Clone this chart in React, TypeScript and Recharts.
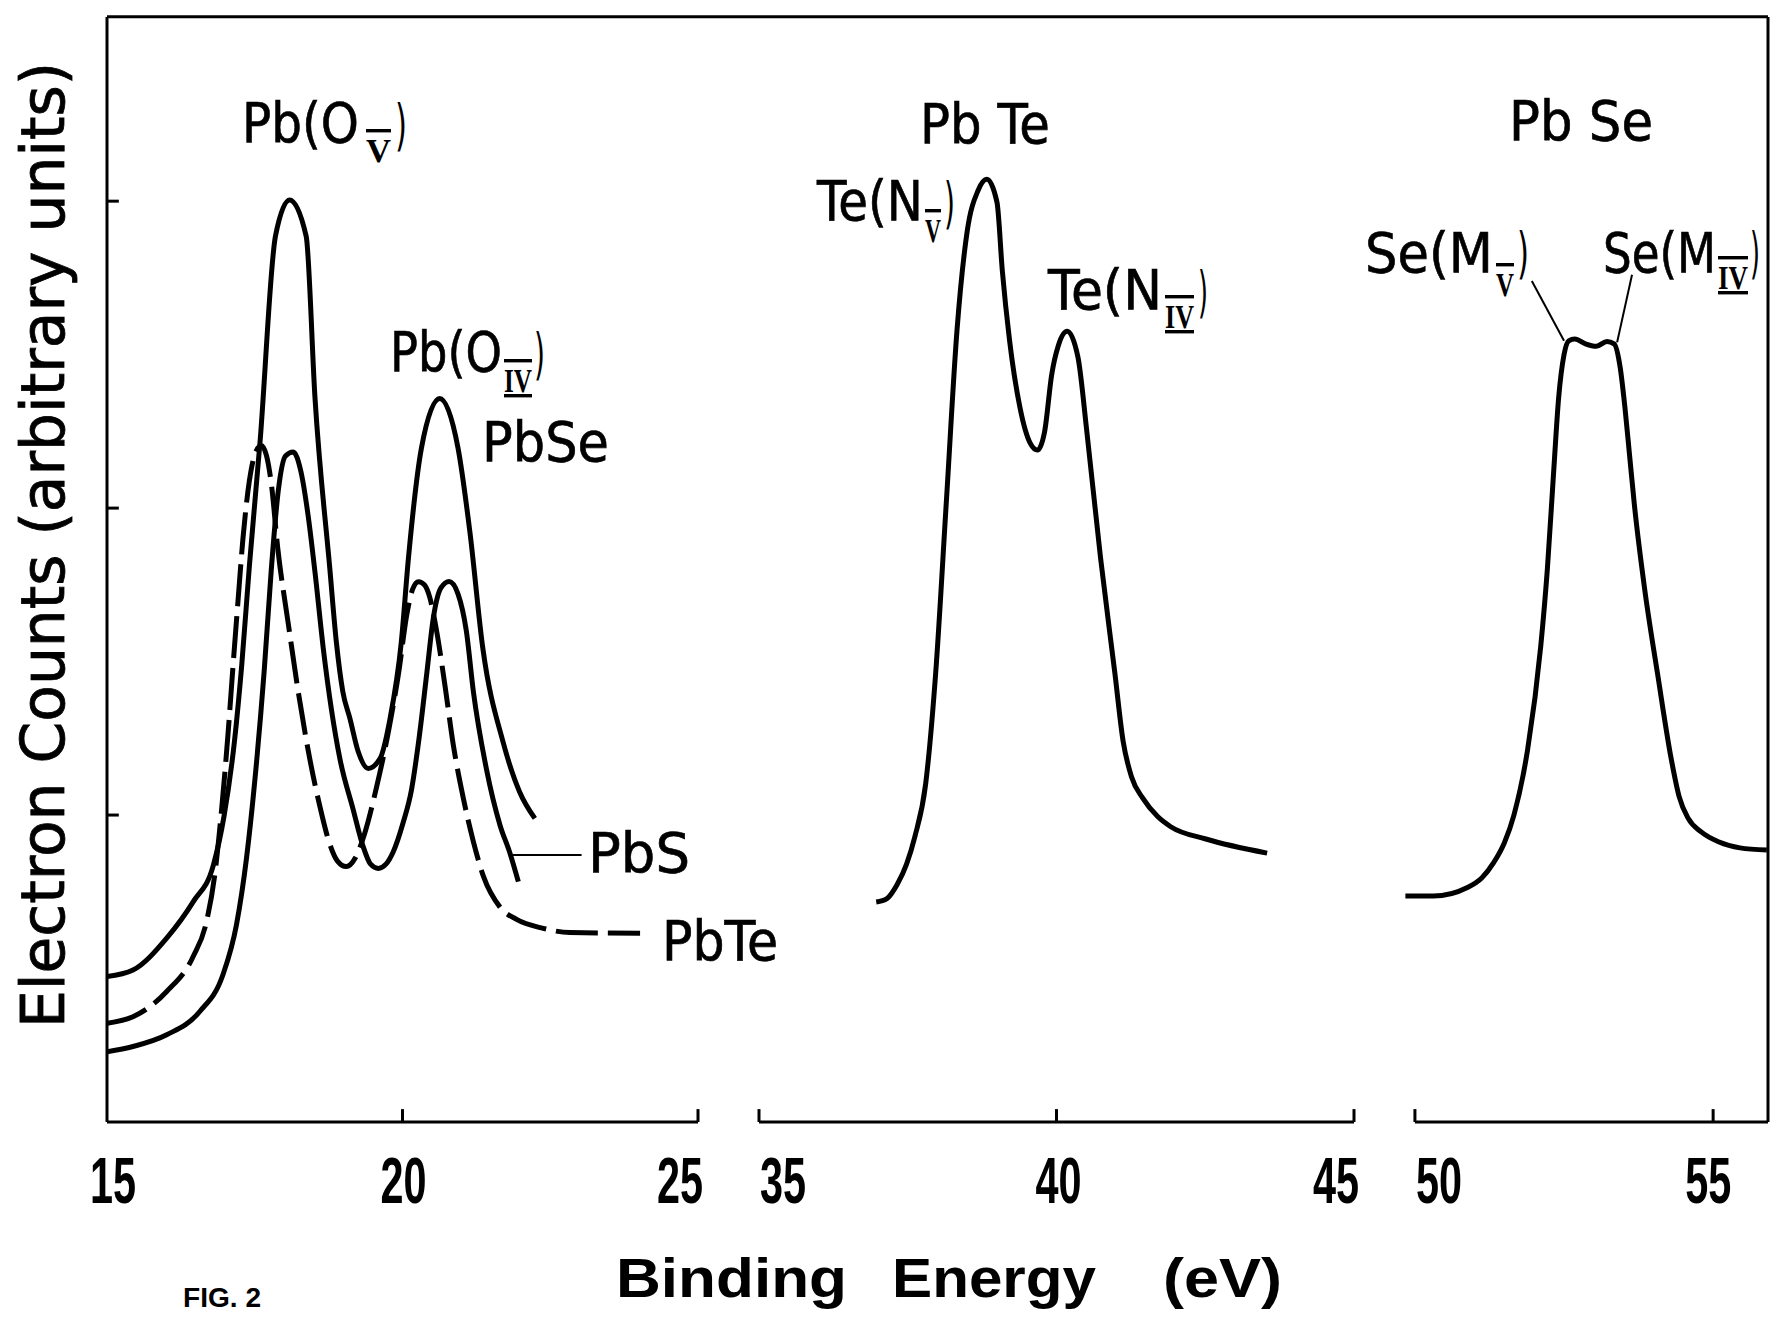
import React from 'react'
import { LineChart, Line, XAxis, YAxis, ReferenceLine } from 'recharts'

// binding energy (eV) vs electron counts (arbitrary units)
const pbSe = [
  { e: 15.0, c: 0.474 }, { e: 15.44, c: 0.495 }, { e: 16.01, c: 0.599 }, { e: 16.46, c: 0.718 },
  { e: 16.8, c: 0.837 }, { e: 16.98, c: 0.996 }, { e: 17.16, c: 1.246 }, { e: 17.28, c: 1.489 },
  { e: 17.41, c: 1.814 }, { e: 17.59, c: 2.217 }, { e: 17.85, c: 2.886 }, { e: 18.09, c: 3.004 },
  { e: 18.37, c: 2.886 }, { e: 18.52, c: 2.357 }, { e: 18.77, c: 1.803 }, { e: 18.88, c: 1.565 },
  { e: 18.99, c: 1.402 }, { e: 19.11, c: 1.315 }, { e: 19.25, c: 1.207 }, { e: 19.42, c: 1.152 },
  { e: 19.62, c: 1.184 }, { e: 19.79, c: 1.315 }, { e: 19.98, c: 1.564 }, { e: 20.1, c: 1.836 },
  { e: 20.32, c: 2.195 }, { e: 20.63, c: 2.357 }, { e: 20.94, c: 2.195 }, { e: 21.14, c: 1.923 },
  { e: 21.36, c: 1.542 }, { e: 21.7, c: 1.239 }, { e: 21.98, c: 1.076 }, { e: 22.24, c: 0.989 },
]

const pbS = [
  { e: 15.0, c: 0.229 }, { e: 15.44, c: 0.246 }, { e: 16.01, c: 0.284 }, { e: 16.57, c: 0.36 },
  { e: 16.96, c: 0.479 }, { e: 17.19, c: 0.642 }, { e: 17.36, c: 0.859 }, { e: 17.5, c: 1.11 },
  { e: 17.66, c: 1.47 }, { e: 17.78, c: 1.8 }, { e: 17.9, c: 2.06 }, { e: 18.02, c: 2.17 },
  { e: 18.15, c: 2.183 }, { e: 18.28, c: 2.12 }, { e: 18.4, c: 1.98 }, { e: 18.52, c: 1.79 },
  { e: 18.66, c: 1.542 }, { e: 18.94, c: 1.184 }, { e: 19.16, c: 1.022 }, { e: 19.33, c: 0.9 },
  { e: 19.46, c: 0.84 }, { e: 19.59, c: 0.826 }, { e: 19.72, c: 0.84 }, { e: 19.84, c: 0.879 },
  { e: 20.01, c: 0.975 }, { e: 20.15, c: 1.08 }, { e: 20.28, c: 1.25 }, { e: 20.41, c: 1.46 },
  { e: 20.52, c: 1.64 }, { e: 20.65, c: 1.74 }, { e: 20.79, c: 1.761 }, { e: 20.94, c: 1.72 },
  { e: 21.08, c: 1.6 }, { e: 21.2, c: 1.401 }, { e: 21.42, c: 1.15 }, { e: 21.65, c: 0.967 },
  { e: 21.82, c: 0.875 }, { e: 21.96, c: 0.783 },
]

const pbTe = [
  { e: 15.0, c: 0.322 }, { e: 15.44, c: 0.343 }, { e: 16.01, c: 0.425 }, { e: 16.46, c: 0.54 },
  { e: 16.68, c: 0.65 }, { e: 16.82, c: 0.8 }, { e: 16.94, c: 1.02 }, { e: 17.05, c: 1.27 },
  { e: 17.13, c: 1.48 }, { e: 17.22, c: 1.706 }, { e: 17.3, c: 1.9 }, { e: 17.41, c: 2.09 },
  { e: 17.51, c: 2.18 }, { e: 17.61, c: 2.204 }, { e: 17.7, c: 2.17 }, { e: 17.78, c: 2.08 },
  { e: 17.89, c: 1.868 }, { e: 18.07, c: 1.62 }, { e: 18.21, c: 1.434 }, { e: 18.43, c: 1.184 },
  { e: 18.6, c: 1.03 }, { e: 18.77, c: 0.905 }, { e: 18.9, c: 0.85 }, { e: 19.05, c: 0.832 },
  { e: 19.2, c: 0.86 }, { e: 19.36, c: 0.94 }, { e: 19.56, c: 1.09 }, { e: 19.76, c: 1.27 },
  { e: 19.94, c: 1.47 }, { e: 20.07, c: 1.65 }, { e: 20.17, c: 1.735 }, { e: 20.27, c: 1.76 },
  { e: 20.37, c: 1.75 }, { e: 20.46, c: 1.71 }, { e: 20.58, c: 1.597 }, { e: 20.72, c: 1.42 },
  { e: 20.86, c: 1.228 }, { e: 21.03, c: 1.054 }, { e: 21.2, c: 0.913 }, { e: 21.37, c: 0.8 },
  { e: 21.65, c: 0.7 }, { e: 21.93, c: 0.66 }, { e: 22.38, c: 0.631 }, { e: 22.83, c: 0.617 },
  { e: 24.02, c: 0.615 },
]

const teN = [
  { e: 36.97, c: 0.717 }, { e: 37.15, c: 0.728 }, { e: 37.32, c: 0.773 }, { e: 37.48, c: 0.84 },
  { e: 37.62, c: 0.93 }, { e: 37.8, c: 1.1 }, { e: 37.97, c: 1.464 }, { e: 38.15, c: 2.025 },
  { e: 38.33, c: 2.585 }, { e: 38.5, c: 2.903 }, { e: 38.68, c: 3.034 }, { e: 38.83, c: 3.071 },
  { e: 39.0, c: 2.996 }, { e: 39.09, c: 2.772 }, { e: 39.21, c: 2.548 }, { e: 39.39, c: 2.324 },
  { e: 39.56, c: 2.211 }, { e: 39.68, c: 2.189 }, { e: 39.8, c: 2.249 }, { e: 39.92, c: 2.436 },
  { e: 40.03, c: 2.529 }, { e: 40.18, c: 2.576 }, { e: 40.36, c: 2.492 }, { e: 40.51, c: 2.249 },
  { e: 40.74, c: 1.838 }, { e: 40.98, c: 1.464 }, { e: 41.12, c: 1.24 }, { e: 41.26, c: 1.125 },
  { e: 41.45, c: 1.055 }, { e: 41.7, c: 0.995 }, { e: 41.92, c: 0.962 }, { e: 42.51, c: 0.922 },
  { e: 43.54, c: 0.876 },
]

const seM = [
  { e: 49.84, c: 0.736 }, { e: 50.31, c: 0.736 }, { e: 50.88, c: 0.764 }, { e: 51.12, c: 0.795 },
  { e: 51.32, c: 0.845 }, { e: 51.5, c: 0.91 }, { e: 51.66, c: 1.0 }, { e: 51.89, c: 1.214 },
  { e: 52.11, c: 1.551 }, { e: 52.22, c: 1.8 }, { e: 52.32, c: 2.1 }, { e: 52.41, c: 2.36 },
  { e: 52.5, c: 2.5 }, { e: 52.58, c: 2.545 }, { e: 52.68, c: 2.551 }, { e: 52.86, c: 2.535 },
  { e: 53.04, c: 2.527 }, { e: 53.22, c: 2.543 }, { e: 53.34, c: 2.535 }, { e: 53.44, c: 2.46 },
  { e: 53.52, c: 2.33 }, { e: 53.6, c: 2.17 }, { e: 53.68, c: 2.01 }, { e: 53.85, c: 1.739 },
  { e: 54.07, c: 1.458 }, { e: 54.3, c: 1.18 }, { e: 54.43, c: 1.06 }, { e: 54.58, c: 0.99 },
  { e: 54.8, c: 0.945 }, { e: 55.1, c: 0.912 }, { e: 55.45, c: 0.893 }, { e: 55.9, c: 0.886 },
]

const ticksLow = [15, 20, 25]
const ticksMid = [35, 40, 45]
const ticksHigh = [50, 55]
const countTicks = [1, 2, 3]

// leader lines from the Se labels down to the plateau
const seLeaders = [
  [{ x: 51.96, y: 2.74 }, { x: 52.5, y: 2.545 }],
  [{ x: 53.64, y: 2.76 }, { x: 53.39, y: 2.54 }],
]
const pbSLeader = [{ x: 21.87, y: 0.87 }, { x: 23.03, y: 0.87 }]

const SANS = '"DejaVu Sans", "Liberation Sans", sans-serif'
const NUM = '"Liberation Sans", Arial, sans-serif'
const SERIF = '"Liberation Serif", serif'
const TOP = 3.6
const HI_END = 55.92

// tick labels in the original sit inward at the broken-axis ends
const labelShift: Record<number, number> = { 15: 6, 20: 1, 25: -18, 35: 24, 40: 2, 45: -18, 50: 24, 55: -5 }

const EnergyTick = (props: any) => {
  const { x, y, payload } = props
  return (
    <text
      x={x + (labelShift[payload.value] || 0)}
      y={y + 81}
      textAnchor="middle"
      fontFamily={NUM}
      fontWeight="bold"
      fontSize={64}
      textLength={46}
      lengthAdjust="spacingAndGlyphs"
      fill="#000"
    >
      {payload.value}
    </text>
  )
}

const seg = (pts: { x: number; y: number }[], key: string, w = 3) => (
  <ReferenceLine key={key} segment={pts} stroke="#000" strokeWidth={w} ifOverflow="visible" />
)

const Panel = ({ left, width, domain, ticks, children }: any) => (
  <div style={{ position: 'absolute', left: left - 40, top: 0 }}>
    <LineChart width={width + 80} height={1321} margin={{ top: 17, right: 40, bottom: 119, left: 40 }}>
      <XAxis
        type="number"
        dataKey="e"
        domain={domain}
        ticks={ticks}
        interval={0}
        allowDataOverflow
        axisLine={false}
        tickLine={false}
        tickSize={0}
        tickMargin={0}
        height={80}
        tick={<EnergyTick />}
      />
      <YAxis type="number" dataKey="c" domain={[0, TOP]} hide allowDataOverflow />
      {children}
    </LineChart>
  </div>
)

const curve = (data: any[], dashed = false) => (
  <Line
    data={data}
    dataKey="c"
    type="monotone"
    stroke="#000"
    strokeWidth={5}
    strokeDasharray={dashed ? '42 10' : undefined}
    dot={false}
    activeDot={false}
    isAnimationActive={false}
  />
)

const fit = { lengthAdjust: 'spacingAndGlyphs' as const }

const Note = ({ x, y, w, size = 56, bold = false, family = SANS, children }: any) => (
  <text
    x={x}
    y={y}
    fontFamily={family}
    fontWeight={bold ? 'bold' : 'normal'}
    fontSize={size}
    textLength={w}
    {...fit}
    fill="#000"
    stroke="#000"
    strokeWidth={bold ? 0 : 0.7}
  >
    {children}
  </text>
)

// peak label like Pb(O_V): main part, roman subscript with bar, closing bracket
const Peak = ({ main, sub, close }: any) => (
  <text fontFamily={SANS} fontSize={56} fill="#000">
    <tspan x={main[0]} y={main[1]} textLength={main[2]} {...fit} stroke="#000" strokeWidth={0.7}>{main[3]}</tspan>
    <tspan
      x={sub[0]}
      y={sub[1]}
      textLength={sub[2]}
      {...fit}
      fontFamily={SERIF}
      fontWeight="bold"
      fontSize={34}
      style={{ textDecoration: sub[3] === 'IV' ? 'overline underline' : 'overline' }}
    >
      {sub[3]}
    </tspan>
    <tspan x={close[0]} y={close[1]} textLength={close[2]} {...fit}>)</tspan>
  </text>
)

export default function App() {
  return (
    <div style={{ position: 'absolute', left: 0, top: 0, width: 1771, height: 1321, background: '#fff', overflow: 'hidden' }}>
      <Panel left={107} width={591} domain={[15, 25]} ticks={ticksLow}>
        {seg([{ x: 15, y: 0 }, { x: 15, y: TOP }], 'left')}
        {seg([{ x: 15, y: 0 }, { x: 25, y: 0 }], 'base1')}
        {countTicks.map(c => seg([{ x: 15, y: c }, { x: 15.2, y: c }], `yt${c}`))}
        {[20, 25].map(e => seg([{ x: e, y: 0 }, { x: e, y: 0.042 }], `xt${e}`))}
        {seg(pbSLeader, 'pbs', 2)}
        {curve(pbSe)}
        {curve(pbS)}
        {curve(pbTe, true)}
      </Panel>

      <Panel left={759} width={595} domain={[35, 45]} ticks={ticksMid}>
        {seg([{ x: 35, y: 0 }, { x: 45, y: 0 }], 'base2')}
        {ticksMid.map(e => seg([{ x: e, y: 0 }, { x: e, y: 0.042 }], `xt${e}`))}
        {curve(teN)}
      </Panel>

      <Panel left={1403} width={365} domain={[49.8, HI_END]} ticks={ticksHigh}>
        {seg([{ x: 50, y: 0 }, { x: HI_END, y: 0 }], 'base3')}
        {seg([{ x: HI_END, y: 0 }, { x: HI_END, y: TOP }], 'right')}
        {ticksHigh.map(e => seg([{ x: e, y: 0 }, { x: e, y: 0.042 }], `xt${e}`))}
        {seLeaders.map((p, i) => seg(p, `lead${i}`, 2))}
        {curve(seM)}
      </Panel>

      <svg width={1771} height={1321} style={{ position: 'absolute', left: 0, top: 0, pointerEvents: 'none' }}>
        <line x1={107} y1={16.8} x2={1768} y2={16.8} stroke="#000" strokeWidth={3} />

        <text
          transform="translate(64,545) rotate(-90)"
          textAnchor="middle"
          fontFamily={SANS}
          fontSize={60}
          stroke="#000"
          strokeWidth={0.8}
          textLength={966}
          {...fit}
          fill="#000"
        >
          Electron Counts (arbitrary units)
        </text>

        <text fontFamily={NUM} fontWeight="bold" fontSize={56} fill="#000">
          <tspan x={616} y={1297} textLength={231} {...fit}>Binding</tspan>
          <tspan x={892} y={1297} textLength={204} {...fit}>Energy</tspan>
          <tspan x={1163} y={1297} textLength={119} {...fit}>(eV)</tspan>
        </text>
        <Note x={183} y={1307} w={78} size={27} bold family={NUM}>FIG. 2</Note>

        <Peak main={[242, 142, 117, 'Pb(O']} sub={[366, 162, 25, 'V']} close={[395, 144, 12, ')']} />
        <Peak main={[390, 371, 112, 'Pb(O']} sub={[504, 392, 28, 'IV']} close={[534, 373, 11, ')']} />

        <Note x={482} y={461} w={127}>PbSe</Note>
        <Note x={588} y={872} w={102}>PbS</Note>
        <Note x={662} y={960} w={116}>PbTe</Note>

        <Note x={920} y={143} w={130}>Pb Te</Note>
        <Peak main={[817, 220, 106, 'Te(N']} sub={[925, 242, 16, 'V']} close={[944, 222, 11, ')']} />
        <Peak main={[1048, 309, 114, 'Te(N']} sub={[1165, 328, 29, 'IV']} close={[1198, 311, 10, ')']} />

        <Note x={1509} y={140} w={144}>Pb Se</Note>
        <Peak main={[1365, 272, 128, 'Se(M']} sub={[1496, 296, 18, 'V']} close={[1517, 272, 12, ')']} />
        <Peak main={[1603, 272, 113, 'Se(M']} sub={[1718, 289, 30, 'IV']} close={[1750, 272, 10, ')']} />
      </svg>
    </div>
  )
}
